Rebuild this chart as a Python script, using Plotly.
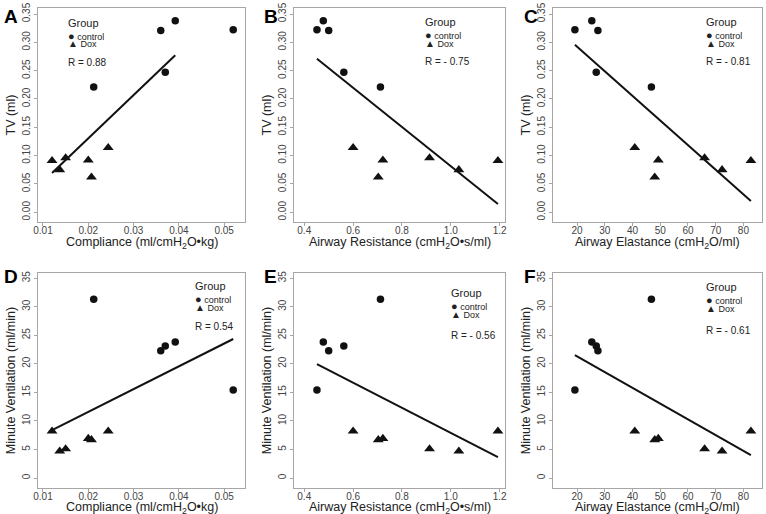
import numpy as np
import plotly.graph_objects as go

# ---------------- data ----------------
# control animals (5) and Dox animals (6); same animal order in every list
ctrl_compliance = [0.0212, 0.0360, 0.0392, 0.0370, 0.0520]
ctrl_resistance = [0.712, 0.500, 0.478, 0.562, 0.452]
ctrl_elastance = [46.8, 27.5, 25.3, 26.9, 19.2]
ctrl_tv = [0.221, 0.321, 0.338, 0.247, 0.322]
ctrl_mv = [31.3, 22.3, 23.8, 23.1, 15.4]

dox_compliance = [0.0244, 0.0207, 0.0200, 0.0150, 0.0137, 0.0120]
dox_resistance = [0.600, 0.703, 0.722, 0.913, 1.033, 1.193]
dox_elastance = [40.8, 48.0, 49.3, 66.0, 72.3, 82.7]
dox_tv = [0.114, 0.062, 0.092, 0.096, 0.075, 0.091]
dox_mv = [8.2, 6.7, 6.9, 5.1, 4.7, 8.2]

panel_letters = ["A", "B", "C", "D", "E", "F"]
r_labels = ["R = 0.88", "R = - 0.75", "R = - 0.81", "R = 0.54", "R = - 0.56", "R = - 0.61"]
group_labels = ["control", "Dox"]
legend_title = "Group"
# panel A's fitted line stops at this compliance value in the original
fit_x_end = [0.0392, None, None, None, None, None]

x_titles = {
    "compliance": "Compliance (ml/cmH<sub>2</sub>O•kg)",
    "resistance": "Airway Resistance (cmH<sub>2</sub>O•s/ml)",
    "elastance": "Airway Elastance (cmH<sub>2</sub>O/ml)",
}
y_titles = {"tv": "TV (ml)", "mv": "Minute Ventilation (ml/min)"}

compliance_ticks = [0.01, 0.02, 0.03, 0.04, 0.05]
resistance_ticks = [0.4, 0.6, 0.8, 1.0, 1.2]
elastance_ticks = [20, 30, 40, 50, 60, 70, 80]
tv_ticks = [0.00, 0.05, 0.10, 0.15, 0.20, 0.25, 0.30, 0.35]
mv_ticks = [0, 5, 10, 15, 20, 25, 30, 35]

# ---------------- layout helpers ----------------
W, H = 766, 514
FONT = "Liberation Sans, Arial, sans-serif"


def fx(px):
    return px / W


def fy(py):
    return 1 - py / H


xvars = {
    "compliance": (ctrl_compliance, dox_compliance, compliance_ticks, ".2f", [0.0089, 0.0546]),
    "resistance": (ctrl_resistance, dox_resistance, resistance_ticks, ".1f", [0.358, 1.222]),
    "elastance": (ctrl_elastance, dox_elastance, elastance_ticks, "d", [11.3, 86.7]),
}
yvars = {
    "tv": (ctrl_tv, dox_tv, tv_ticks, ".2f", [-0.0172, 0.3606]),
    "mv": (ctrl_mv, dox_mv, mv_ticks, "d", [-1.75, 35.9]),
}

panels = [
    ("compliance", "tv"), ("resistance", "tv"), ("elastance", "tv"),
    ("compliance", "mv"), ("resistance", "mv"), ("elastance", "mv"),
]

col_px = [(38, 245), (294, 505), (553, 762)]
row_px = [(8, 222), (273, 488)]
title_gap = [20.5, 19.5]
letter_pos = [(2, 4), (262, 4), (522, 4), (2, 264), (262, 264), (522, 264)]
# (left x, Group y, control y, Dox y, R y) in pixels
legend_pos = [
    (66, 23, 36.5, 43.5, 62),
    (423, 22, 35, 43, 61.5),
    (704, 22, 35, 43, 61),
    (193, 286, 299, 307, 326),
    (449, 293, 306, 314.5, 335),
    (704, 287, 300, 308.5, 330),
]

TITLE_FONT = dict(family=FONT, size=12.5, color="#222222")
TEXT_COL = "#222222"

fig = go.Figure()
annotations = []
layout = {}

for i, (xk, yk) in enumerate(panels):
    n = i + 1
    xa = "x" if n == 1 else f"x{n}"
    ya = "y" if n == 1 else f"y{n}"
    cx, dx, xt, xfmt, xr = xvars[xk]
    cy, dy, yt, yfmt, yr = yvars[yk]

    fig.add_trace(go.Scatter(
        x=cx, y=cy, mode="markers", xaxis=xa, yaxis=ya, showlegend=False,
        name=group_labels[0],
        marker=dict(symbol="circle", size=7.5, color="#111111"),
    ))
    fig.add_trace(go.Scatter(
        x=dx, y=dy, mode="markers", xaxis=xa, yaxis=ya, showlegend=False,
        name=group_labels[1],
        marker=dict(symbol="triangle-up", size=9.5, color="#111111"),
    ))
    xa_all = np.array(cx + dx, dtype=float)
    ya_all = np.array(cy + dy, dtype=float)
    slope, inter = np.polyfit(xa_all, ya_all, 1)
    x0 = xa_all.min()
    x1 = fit_x_end[i] if fit_x_end[i] is not None else xa_all.max()
    lx = np.array([x0, x1])
    fig.add_trace(go.Scatter(
        x=lx, y=slope * lx + inter, mode="lines", xaxis=xa, yaxis=ya,
        showlegend=False, line=dict(color="#111111", width=2),
    ))

    c = i % 3
    r = i // 3
    xd = [fx(col_px[c][0]), fx(col_px[c][1])]
    yd = [fy(row_px[r][1]), fy(row_px[r][0])]
    axis_common = dict(
        showline=True, mirror=True, linecolor="#a6a6a6", linewidth=1,
        ticks="outside", ticklen=3, tickcolor="#a6a6a6", tickwidth=1,
        showgrid=False, zeroline=False, automargin=False,
        tickfont=dict(family=FONT, size=10, color="#444444"),
    )
    layout["xaxis" if n == 1 else f"xaxis{n}"] = dict(
        axis_common, domain=xd, anchor=ya, range=xr,
        tickmode="array", tickvals=xt, tickformat=xfmt, ticklabelstandoff=-4,
    )
    layout["yaxis" if n == 1 else f"yaxis{n}"] = dict(
        axis_common, domain=yd, anchor=xa, range=yr,
        tickmode="array", tickvals=yt, tickformat=yfmt, tickangle=-90,
        title=dict(text=y_titles[yk], font=TITLE_FONT, standoff=2),
    )

    # x-axis title (placed just under the tick labels)
    annotations.append(dict(
        text=x_titles[xk], x=(xd[0] + xd[1]) / 2, y=fy(row_px[r][1] + title_gap[r]),
        xref="paper", yref="paper", xanchor="center", yanchor="middle",
        showarrow=False, font=TITLE_FONT,
    ))

    lx0, ly, lyc, lyd, lyr = legend_pos[i]
    annotations.append(dict(
        text=f"<b>{panel_letters[i]}</b>", x=fx(letter_pos[i][0]), y=fy(letter_pos[i][1]),
        xref="paper", yref="paper", xanchor="left", yanchor="top", showarrow=False,
        font=dict(family=FONT, size=19, color="#000000"),
    ))
    annotations.append(dict(
        text=legend_title, x=fx(lx0), y=fy(ly), xref="paper", yref="paper",
        xanchor="left", yanchor="middle", showarrow=False,
        font=dict(family=FONT, size=11, color=TEXT_COL),
    ))
    annotations.append(dict(
        text="<span style='font-size:11px'>●</span> " + group_labels[0],
        x=fx(lx0), y=fy(lyc), xref="paper", yref="paper",
        xanchor="left", yanchor="middle", showarrow=False,
        font=dict(family=FONT, size=9, color=TEXT_COL),
    ))
    annotations.append(dict(
        text="<span style='font-size:10px'>▲</span> " + group_labels[1],
        x=fx(lx0), y=fy(lyd), xref="paper", yref="paper",
        xanchor="left", yanchor="middle", showarrow=False,
        font=dict(family=FONT, size=9, color=TEXT_COL),
    ))
    annotations.append(dict(
        text=r_labels[i], x=fx(lx0), y=fy(lyr), xref="paper", yref="paper",
        xanchor="left", yanchor="middle", showarrow=False,
        font=dict(family=FONT, size=10, color=TEXT_COL),
    ))

fig.update_layout(
    width=W, height=H, margin=dict(l=0, r=0, t=0, b=0),
    paper_bgcolor="white", plot_bgcolor="white",
    font=dict(family=FONT), showlegend=False,
    annotations=annotations, **layout,
)

fig.write_html(
    "out.html",
    config={"displayModeBar": False},
    post_script="document.body.style.margin='0';document.body.style.padding='0';"
                "document.body.style.overflow='hidden';",
)
